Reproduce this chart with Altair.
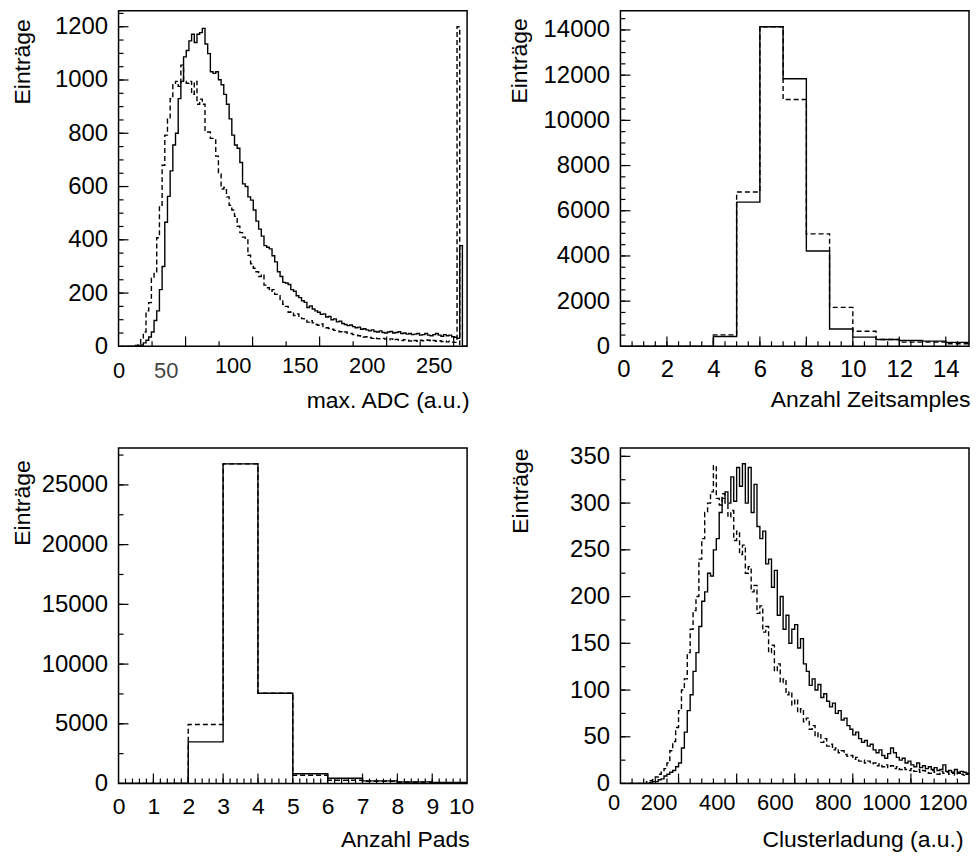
import altair as alt
import pandas as pd

FONT = "Liberation Sans"
FS_YLABEL = 24
FS_TITLE = 23
W, H = 350, 337

# ---------------- Panel 1: max. ADC (bins of width 2 starting at 0.5) ----------------
ADC_START, ADC_BINW = 0.5, 2.0
ADC_SOLID = [0, 0, 0, 0, 0, 0, 0,
             3, 5, 13, 23, 35, 54, 97, 133, 213, 300,
             466, 563, 659, 756, 800, 930, 995, 1087, 1111, 1147,
             1172, 1141, 1172, 1178, 1194, 1135, 1099, 1031, 1025, 1031,
             1001, 982, 946, 909, 854, 793, 756, 744,
             690, 610, 600, 561, 549, 512, 470, 440, 414, 378,
             372, 366, 340, 317, 280, 262, 240, 238, 232, 213,
             207, 190, 183, 171, 165, 146, 152, 140, 133, 128,
             120, 122, 110, 112, 100, 103, 92, 94, 86, 82,
             78, 80, 74, 70, 72, 64, 66, 62, 58, 62,
             56, 54, 58, 52, 50, 54, 56, 50, 52, 55,
             48, 50, 46, 48, 44, 46, 48, 42, 44, 48,
             42, 40, 44, 48, 42, 38, 44, 40, 42, 36,
             34, 30, 378, 0, 0]
ADC_DASHED = [0, 0, 0, 0, 0, 0,
              3, 11, 29, 54, 133, 164, 256, 280, 408, 530,
              680, 793, 854, 930, 982, 995, 976, 1056, 995, 988,
              995, 946, 995, 909, 928, 909, 811, 805, 781, 775,
              714, 647, 591, 597, 561, 530, 512, 488, 451, 427,
              410, 403, 342, 310, 293, 280, 262, 270, 230, 220,
              207, 213, 195, 190, 170, 158, 150, 128, 130, 116,
              122, 110, 104, 100, 91, 96, 88, 82, 79, 84,
              74, 70, 67, 64, 60, 58, 55, 52, 54, 49,
              48, 44, 42, 40, 38, 35, 36, 33, 30, 32,
              29, 28, 30, 27, 25, 28, 23, 26, 24, 22,
              25, 23, 20, 24, 22, 19, 23, 21, 24, 23,
              20, 22, 19, 21, 18, 20, 17, 19, 16, 15,
              1200, 0, 0, 0]
ADC_XDOM, ADC_YDOM = [0, 260], [0, 1260]
ADC_XLABELS = [0, 50, 100, 150, 200, 250]
ADC_YLABELS = [0, 200, 400, 600, 800, 1000, 1200]
ADC_XMAJ = [50, 100, 150, 200, 250]
ADC_XMIN = [25, 75, 125, 175, 225]
ADC_YMAJ = [200, 400, 600, 800, 1000, 1200]
ADC_YMIN = list(range(50, 1260, 50))

# ---------------- Panel 2: Anzahl Zeitsamples ----------------
ZS_START, ZS_BINW = 0.0, 1.0
ZS_SOLID = [0, 0, 0, 0, 435, 6384, 14145, 11839, 4222, 769, 406, 305, 261, 232, 174]
ZS_DASHED = [0, 0, 0, 0, 508, 6833, 14145, 10925, 4976, 1726, 667, 305, 189, 189, 116]
ZS_XDOM, ZS_YDOM = [0, 15], [0, 14850]
ZS_XLABELS = [0, 2, 4, 6, 8, 10, 12, 14]
ZS_YLABELS = [0, 2000, 4000, 6000, 8000, 10000, 12000, 14000]
ZS_XMAJ = [2, 4, 6, 8, 10, 12, 14]
ZS_XMIN = [i * 0.5 for i in range(1, 30)]
ZS_YMAJ = [2000, 4000, 6000, 8000, 10000, 12000, 14000]
ZS_YMIN = list(range(500, 14850, 500))

# ---------------- Panel 3: Anzahl Pads ----------------
PD_START, PD_BINW = 0.0, 1.0
PD_SOLID = [0, 0, 3489, 26758, 7555, 824, 440, 220, 137, 82]
PD_DASHED = [0, 0, 4945, 26758, 7555, 690, 275, 190, 110, 80]
PD_XDOM, PD_YDOM = [0, 10], [0, 28096]
PD_XLABELS = list(range(0, 11))
PD_YLABELS = [0, 5000, 10000, 15000, 20000, 25000]
PD_XMAJ = list(range(1, 10))
PD_XMIN = [i * 0.2 for i in range(1, 50)]
PD_YMAJ = [5000, 10000, 15000, 20000, 25000]
PD_YMIN = list(range(2500, 28096, 2500))

# ---------------- Panel 4: Clusterladung (bins of width 10) ----------------
CL_START, CL_BINW = 0.0, 10.0
CL_SOLID = [0, 0, 0, 0, 0, 0, 0, 0, 0, 0,
            1, 2, 2, 4, 5, 8, 10, 12, 14, 18,
            22, 38, 55, 78, 95, 120, 140, 168, 195, 205,
            225, 222, 250, 262, 290, 305, 312, 300, 328, 302,
            338, 318, 342, 300, 338, 290, 320, 275, 262, 270,
            235, 240, 210, 228, 180, 200, 165, 180, 150, 165,
            170, 145, 155, 128, 120, 105, 112, 100, 106, 92,
            96, 88, 82, 86, 75, 78, 68, 70, 62, 58,
            52, 55, 48, 44, 46, 40, 42, 36, 33, 36,
            30, 27, 32, 38, 33, 28, 25, 27, 22, 24,
            20, 18, 22, 17, 19, 16, 18, 15, 17, 14,
            15, 20, 13, 14, 12, 15, 11, 13, 12, 10]
CL_DASHED = [0, 0, 0, 0, 0, 0, 0, 0, 0, 2,
             3, 4, 7, 10, 12, 16, 22, 35, 45, 60,
             78, 100, 112, 140, 165, 185, 200, 240, 262, 290,
             300, 312, 340, 305, 298, 310, 300, 285, 292, 260,
             270, 245, 255, 225, 232, 205, 212, 182, 190, 162,
             168, 140, 148, 120, 128, 108, 112, 95, 98, 84,
             90, 76, 80, 66, 70, 58, 62, 50, 54, 44,
             48, 40, 42, 36, 38, 33, 35, 31, 29, 30,
             26, 28, 24, 25, 22, 24, 21, 22, 19, 21,
             18, 20, 17, 19, 16, 18, 15, 17, 15, 14,
             16, 13, 15, 12, 14, 13, 11, 14, 12, 10,
             13, 11, 12, 10, 11, 9, 12, 10, 9, 11]
CL_XDOM, CL_YDOM = [0, 1200], [0, 359]
CL_XLABELS = [0, 200, 400, 600, 800, 1000, 1200]
CL_YLABELS = [0, 50, 100, 150, 200, 250, 300, 350]
CL_XMAJ = [200, 400, 600, 800, 1000]
CL_XMIN = list(range(40, 1200, 40))
CL_YMAJ = [50, 100, 150, 200, 250, 300, 350]
CL_YMIN = list(range(25, 359, 25))

YTITLE = "Einträge"


def hist_frame(start, binw, solid, dashed):
    n = len(solid)
    rows = []
    for name, vals in (("solid", solid), ("dashed", dashed)):
        for i in range(n + 1):
            rows.append({"x": start + binw * i, "y": vals[min(i, n - 1)], "s": name})
    return pd.DataFrame(rows)


def panel(start, binw, solid, dashed, xdom, ydom, xlabels, ylabels,
          xmaj, xmin, ymaj, ymin, xtitle, xtitle_y, ytitle_x, ytitle_y,
          x_label_offset=0, x_label_pad=9, x_label_color="black", x_label_fs=22,
          x_label_align="center", xtitle_x=W + 2):
    df = hist_frame(start, binw, solid, dashed)
    xscale = alt.Scale(domain=xdom, nice=False, zero=False)
    yscale = alt.Scale(domain=ydom, nice=False)
    xaxis = alt.Axis(values=xlabels, format="d", ticks=False, domain=False, grid=False,
                     labelFont=FONT, labelFontSize=x_label_fs, labelColor=x_label_color,
                     labelPadding=x_label_pad, labelOffset=x_label_offset,
                     labelAlign=x_label_align,
                     labelFlush=False, labelOverlap=False, labelBound=False,
                     title=xtitle, titleFont=FONT, titleFontSize=FS_TITLE, titleFontWeight="normal",
                     titleAnchor="end", titleAlign="right", titleBaseline="alphabetic",
                     titleX=xtitle_x, titleY=xtitle_y, titleColor="black")
    yaxis = alt.Axis(values=ylabels, format="d", ticks=False, domain=False, grid=False,
                     labelFont=FONT, labelFontSize=FS_YLABEL, labelColor="black", labelPadding=11,
                     labelFlush=False, labelOverlap=False, labelBound=False,
                     title=YTITLE, titleFont=FONT, titleFontSize=FS_TITLE, titleFontWeight="normal",
                     titleAngle=270, titleAlign="right", titleBaseline="alphabetic",
                     titleX=ytitle_x, titleY=ytitle_y, titleColor="black")
    line = alt.Chart(df).mark_line(interpolate="step-after", color="black",
                                   strokeWidth=1.4, clip=True).encode(
        x=alt.X("x:Q", scale=xscale, axis=xaxis),
        y=alt.Y("y:Q", scale=yscale, axis=yaxis),
        strokeDash=alt.StrokeDash("s:N", scale=alt.Scale(domain=["solid", "dashed"],
                                                         range=[[1, 0], [5, 3]]), legend=None),
    )

    def xticks(vals, length):
        return alt.Chart(pd.DataFrame({"x": vals})).mark_rule(color="black", strokeWidth=1.2).encode(
            x=alt.X("x:Q", scale=xscale, axis=xaxis),
            y=alt.value(H), y2=alt.value(H - length))

    def yticks(vals, length):
        return alt.Chart(pd.DataFrame({"y": vals})).mark_rule(color="black", strokeWidth=1.2).encode(
            y=alt.Y("y:Q", scale=yscale, axis=yaxis),
            x=alt.value(0), x2=alt.value(length))

    return alt.layer(line, xticks(xmin, 5), xticks(xmaj, 10),
                     yticks(ymin, 5), yticks(ymaj, 10)).properties(width=W, height=H)


p1 = panel(ADC_START, ADC_BINW, ADC_SOLID, ADC_DASHED, ADC_XDOM, ADC_YDOM,
           ADC_XLABELS, ADC_YLABELS, ADC_XMAJ, ADC_XMIN, ADC_YMAJ, ADC_YMIN,
           "max. ADC (a.u.)", 61, -89, 8,
           x_label_offset={"condition": {"test": "datum.value == 0", "value": 0}, "value": -20},
           x_label_pad={"condition": {"test": "datum.value <= 50", "value": 14}, "value": 9},
           x_label_color={"condition": {"test": "datum.value == 50", "value": "#444444"},
                          "value": "black"},
           x_label_fs=22)
p2 = panel(ZS_START, ZS_BINW, ZS_SOLID, ZS_DASHED, ZS_XDOM, ZS_YDOM,
           ZS_XLABELS, ZS_YLABELS, ZS_XMAJ, ZS_XMIN, ZS_YMAJ, ZS_YMIN,
           "Anzahl Zeitsamples", 60, -94, 7,
           x_label_offset={"condition": {"test": "datum.value == 0", "value": 3}, "value": 0},
           x_label_pad=11, x_label_fs=24, xtitle_x=W + 1)
p3 = panel(PD_START, PD_BINW, PD_SOLID, PD_DASHED, PD_XDOM, PD_YDOM,
           PD_XLABELS, PD_YLABELS, PD_XMAJ, PD_XMIN, PD_YMAJ, PD_YMIN,
           "Anzahl Pads", 63, -89, 12,
           x_label_offset={"condition": {"test": "datum.value == 10", "value": -6}, "value": 0},
           x_label_pad=12, x_label_fs=23)
p4 = panel(CL_START, CL_BINW, CL_SOLID, CL_DASHED, CL_XDOM, CL_YDOM,
           CL_XLABELS, CL_YLABELS, CL_XMAJ, CL_XMIN, CL_YMAJ, CL_YMIN,
           "Clusterladung (a.u.)", 63, -93, 0,
           x_label_offset={"condition": [{"test": "datum.value == 0", "value": -7},
                                         {"test": "datum.value == 1000", "value": -25},
                                         {"test": "datum.value == 1200", "value": -2}],
                           "value": -20},
           x_label_align={"condition": {"test": "datum.value == 1200", "value": "right"},
                          "value": "center"},
           x_label_pad=9, x_label_fs=22, xtitle_x=W - 6)

chart = alt.concat(p1, p2, p3, p4, columns=2,
                   spacing={"row": 102, "column": 154}, bounds="flush").properties(
    padding={"left": 3, "top": 0, "right": 0, "bottom": 0},
    background="white",
).configure_view(stroke="black", strokeWidth=1.5)

chart.save("out.html", embed_options={"renderer": "svg", "actions": False})
